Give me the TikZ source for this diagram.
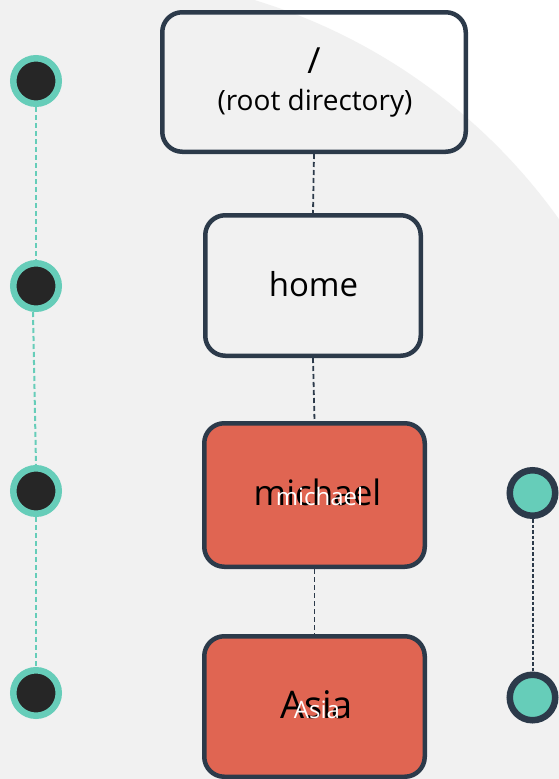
\documentclass[tikz,border=0pt]{standalone}
\usepackage{fontspec}
\setmainfont{Open Sans}
\definecolor{bggrey}{HTML}{F1F1F1}
\definecolor{navy}{HTML}{2C3A4A}
\definecolor{coral}{HTML}{E06552}
\definecolor{tealc}{HTML}{66CDB9}
\definecolor{dotdark}{HTML}{262626}
\begin{document}
\begin{tikzpicture}[x=1pt,y=-1pt,
  dirbox/.style={draw=navy, line width=4.5pt, rounded corners=20pt, inner sep=0pt},
  hotbox/.style={dirbox, fill=coral},
  link/.style={draw=navy, line width=1.8pt, dash pattern=on 5pt off 3pt},
  leftdot/.style={circle, fill=dotdark, draw=tealc, line width=6.5pt, minimum size=45.5pt, inner sep=0pt},
  rightdot/.style={circle, fill=tealc, draw=navy, line width=6.5pt, minimum size=45.5pt, inner sep=0pt},
  tealdash/.style={draw=tealc, line width=2pt, dash pattern=on 5pt off 3pt},
  darkdash/.style={draw=navy, line width=2pt, dash pattern=on 3.5pt off 2pt},
  lbl/.style={anchor=base, inner sep=0pt, text=black}
]
\useasboundingbox (0,0) rectangle (559,779);
\fill[white] (0,0) rectangle (559,779);
\begin{scope}
  \clip (0,0) rectangle (559,779);
  \fill[bggrey] (85,557) circle[radius=582pt];
\end{scope}

% boxes
\node[dirbox, minimum width=303.5pt, minimum height=139.5pt] (root) at (314,82) {};
\node[dirbox, minimum width=215.5pt, minimum height=140.5pt] (home) at (313,285.5) {};
\node[hotbox, minimum width=220.5pt, minimum height=143.5pt] (michael) at (314.5,495) {};
\node[hotbox, minimum width=220.5pt, minimum height=140.5pt] (asia) at (314.5,706.5) {};

% connectors
\draw[link] (root.south) -- (home.north);
\draw[link] (home.south) -- (michael.north);
\draw[link] (michael.south) -- (asia.north);

% texts
\node[lbl, font=\fontsize{36}{36}\selectfont] (slash) at (314,73) {/};
\node[lbl, font=\fontsize{28}{28}\selectfont] (rootlbl) at (315,110) {(root directory)};
\node[lbl, font=\fontsize{33}{33}\selectfont] (homelbl) at (313.5,296.7) {home};
\node[lbl, font=\fontsize{35}{35}\selectfont] (michaelblk) at (317.5,505.7) {michael};
\node[lbl, font=\fontsize{24}{24}\selectfont, text=white] (michaelwht) at (319.5,505) {michael};
\node[lbl, font=\fontsize{38}{38}\selectfont] (asiablk) at (316.5,718) {Asia};
\node[lbl, font=\fontsize{24}{24}\selectfont, text=white] (asiawht) at (317,718) {Asia};

% left timeline
\node[leftdot] (c1) at (36,81) {};
\node[leftdot] (c2) at (36,286) {};
\node[leftdot] (c3) at (36,491) {};
\node[leftdot] (c4) at (36,693) {};
\draw[tealdash] (c1.south) -- (c2.north);
\draw[tealdash] ([xshift=-3pt]c2.south) -- (c3.north);
\draw[tealdash] (c3.south) -- (c4.north);

% right timeline
\node[rightdot] (r1) at (532.5,493) {};
\node[rightdot] (r2) at (532.5,697.5) {};
\draw[darkdash] (r1.south) -- (r2.north);
\end{tikzpicture}
\end{document}
